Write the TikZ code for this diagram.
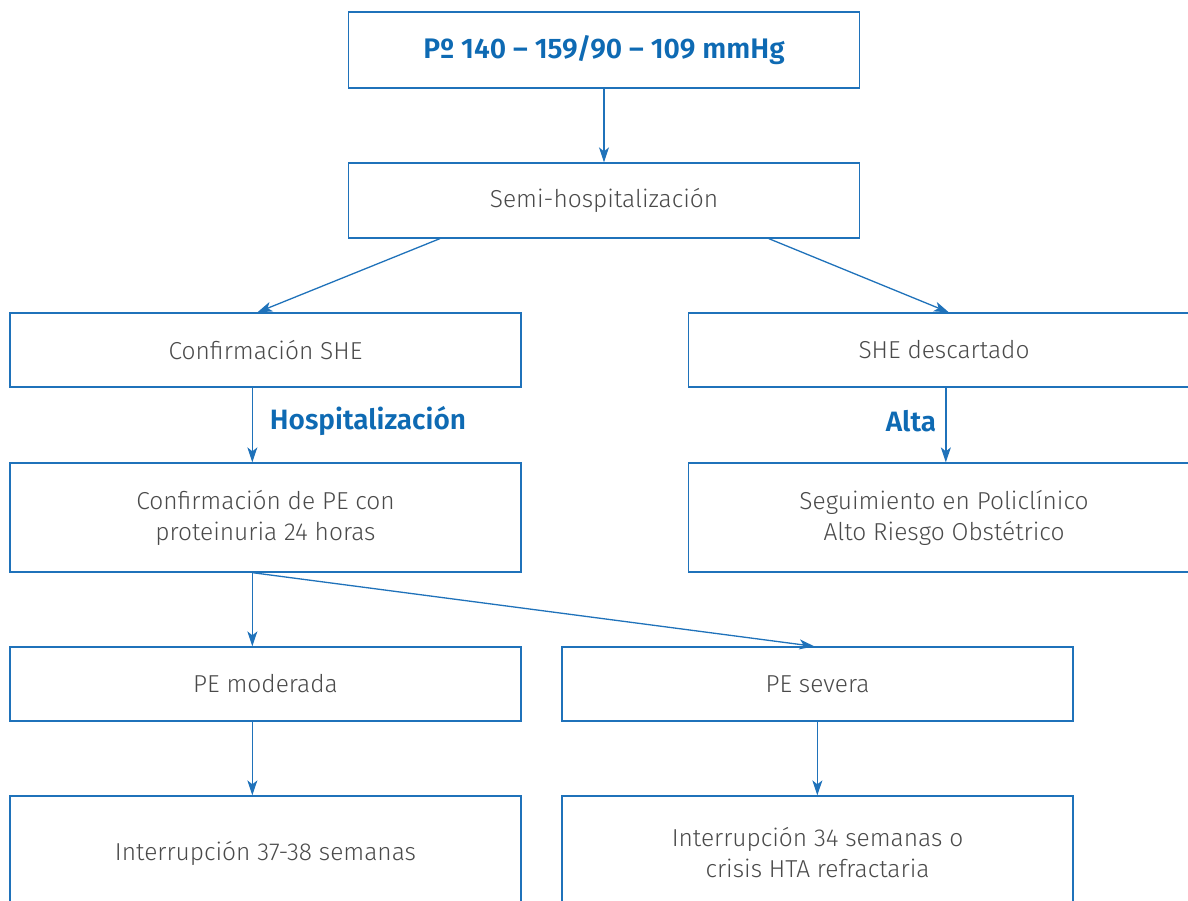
\documentclass[tikz,border=0pt]{standalone}
\usepackage{fontspec}
\setmainfont{Fira Sans}[UprightFont={* Light}, BoldFont={* SemiBold}]
\usetikzlibrary{arrows.meta,calc}
\definecolor{lineblue}{HTML}{1F72BA}
\definecolor{textblue}{HTML}{0E6AB3}
\definecolor{textgray}{HTML}{4A4A4A}
\tikzset{
  box/.style={draw=lineblue, line width=1.3pt, rectangle, minimum width=511pt,
    text=textgray, font=\fontsize{24.5}{31}\selectfont, align=center, inner sep=0pt},
  flow/.style={draw=lineblue, line width=1.3pt,
    -{Stealth[length=15pt,width=10pt,inset=4pt]}},
  tag/.style={text=textblue, font=\fontsize{28}{32}\selectfont\bfseries}
}
\begin{document}
\begin{tikzpicture}[x=1pt,y=-1pt]
  \path[use as bounding box] (0,0) rectangle (1188,900);
  \begin{scope}
    \clip (0,0) rectangle (1188,900);
    \node[box, minimum height=76pt, text=textblue,
      font=\fontsize{28.3}{32}\selectfont\bfseries] (top) at (604,50) {Pº 140 – 159/90 – 109 mmHg};
    \node[box, minimum height=75pt] (semi) at (604,200.5) {Semi-hospitalización};
    \node[box, minimum height=74pt] (conf) at (265.5,350) {Confirmación SHE};
    \node[box, minimum height=74pt] (desc) at (944,350) {SHE descartado};
    \node[box, minimum height=109pt] (pe) at (265.5,517.5) {Confirmación de PE con\\proteinuria 24 horas};
    \node[box, minimum height=109pt] (seg) at (944,517.5) {Seguimiento en Policlínico\\Alto Riesgo Obstétrico};
    \node[box, minimum height=74pt] (mod) at (265.5,684) {PE moderada};
    \node[box, minimum height=74pt] (sev) at (817.5,684) {PE severa};
    \node[box, minimum height=114pt] (int1) at (265.5,853) {Interrupción 37-38 semanas};
    \node[box, minimum height=114pt] (int2) at (817.5,853) {Interrupción 34 semanas o\\crisis HTA refractaria};
  \end{scope}

  \draw[flow] (top.south) -- (semi.north);
  \draw[flow] ($(semi.south west)+(92,0)$) -- ($(conf.north west)+(248,0)$);
  \draw[flow] ($(semi.south west)+(421,0)$) -- ($(desc.north west)+(261,0)$);
  \draw[flow] ($(conf.south west)+(243,0)$) -- ($(pe.north west)+(243,0)$);
  \draw[flow] ($(desc.south west)+(258,0)$) -- ($(seg.north west)+(258,0)$);
  \coordinate (fork) at ($(pe.south west)+(243,0)$);
  \draw[flow] (fork) -- ($(mod.north west)+(243,0)$);
  \draw[flow] (fork) -- ($(sev.north west)+(253,0)$);
  \draw[flow] ($(mod.south west)+(243,0)$) -- ($(int1.north west)+(243,0)$);
  \draw[flow] ($(sev.south west)+(256,0)$) -- ($(int2.north west)+(256,0)$);

  \node[tag] (hosp) at (368,421) {Hospitalización};
  \node[tag] (alta) at (911,421) {Alta};
\end{tikzpicture}
\end{document}
